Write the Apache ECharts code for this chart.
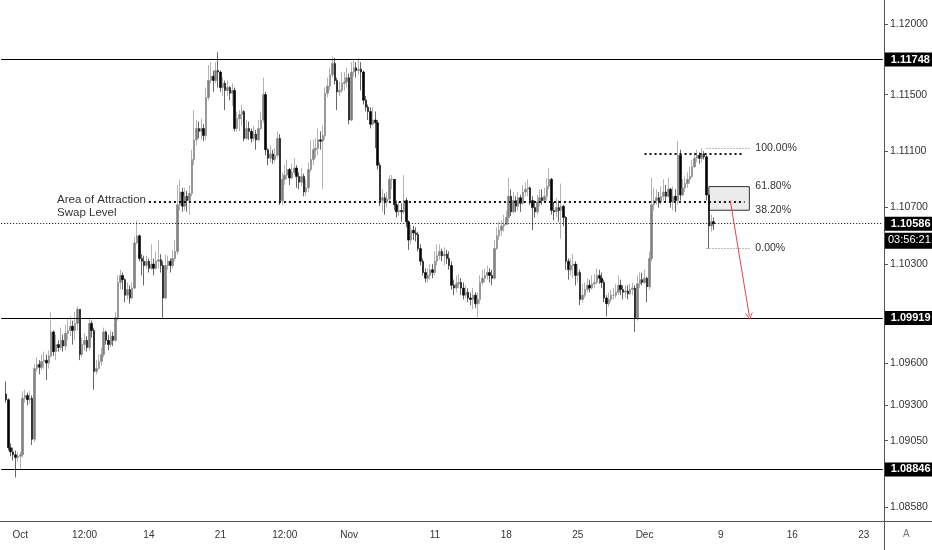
<!DOCTYPE html>
<html>
<head>
<meta charset="utf-8">
<title>EURUSD 4H</title>
<script src="https://cdn.jsdelivr.net/npm/echarts@6/dist/echarts.min.js"></script>
<style>
html, body { margin: 0; padding: 0; background: #fff; }
#chart { width: 932px; height: 550px; }
</style>
</head>
<body>
<div id="chart"></div>
<script>
// 4H bars, six per trading day; open = previous close
var firstOpen = 1.0938;
var closes = [
  1.0934,1.0900,1.0897,1.0895,1.0893,1.0894,
  1.0895,1.0935,1.0937,1.0934,1.0935,1.0906,
  1.0956,1.0959,1.0957,1.0961,1.0962,1.0960,
  1.0965,1.0982,1.0968,1.0973,1.0971,1.0976,
  1.0972,1.0981,1.0983,1.0986,1.0983,1.0988,
  1.0998,1.0966,1.0973,1.0976,1.0971,1.0988,
  1.0983,1.0954,1.0956,1.0961,1.0966,1.0982,
  1.0976,1.0973,1.0979,1.0976,1.0992,1.1017,
  1.1022,1.1019,1.1008,1.1012,1.1006,1.1013,
  1.1045,1.1050,1.1034,1.1032,1.1029,1.1032,
  1.1027,1.1030,1.1027,1.1032,1.1033,1.1029,
  1.1006,1.1029,1.1032,1.1029,1.1034,1.1039,
  1.1072,1.1081,1.1071,1.1078,1.1075,1.1080,
  1.1104,1.1118,1.1126,1.1124,1.1126,1.1121,
  1.1148,1.1160,1.1163,1.1160,1.1167,1.1166,
  1.1155,1.1158,1.1153,1.1155,1.1151,1.1153,
  1.1126,1.1133,1.1136,1.1138,1.1119,1.1126,
  1.1124,1.1119,1.1122,1.1118,1.1126,1.1132,
  1.1150,1.1111,1.1105,1.1108,1.1104,1.1107,
  1.1119,1.1075,1.1090,1.1093,1.1097,1.1091,
  1.1095,1.1098,1.1092,1.1088,1.1092,1.1081,
  1.1084,1.1097,1.1104,1.1111,1.1112,1.1118,
  1.1117,1.1121,1.1151,1.1156,1.1164,1.1172,
  1.1160,1.1152,1.1153,1.1158,1.1159,1.1162,
  1.1132,1.1166,1.1169,1.1167,1.1168,1.1166,
  1.1146,1.1141,1.1138,1.1129,1.1132,1.1130,
  1.1100,1.1075,1.1077,1.1074,1.1076,1.1090,
  1.1090,1.1072,1.1067,1.1068,1.1067,1.1075,
  1.1060,1.1047,1.1054,1.1052,1.1051,1.1041,
  1.1032,1.1024,1.1020,1.1022,1.1026,1.1024,
  1.1032,1.1036,1.1039,1.1036,1.1037,1.1034,
  1.1029,1.1015,1.1013,1.1016,1.1017,1.1013,
  1.1008,1.1010,1.1006,1.1005,1.1008,1.1002,
  1.1005,1.1017,1.1020,1.1022,1.1024,1.1022,
  1.1020,1.1041,1.1050,1.1054,1.1057,1.1058,
  1.1063,1.1078,1.1067,1.1075,1.1071,1.1077,
  1.1073,1.1081,1.1083,1.1084,1.1075,1.1070,
  1.1067,1.1074,1.1077,1.1075,1.1078,1.1085,
  1.1090,1.1068,1.1067,1.1070,1.1068,1.1071,
  1.1063,1.1032,1.1026,1.1029,1.1030,1.1022,
  1.1024,1.1005,1.1008,1.1012,1.1015,1.1013,
  1.1016,1.1017,1.1022,1.1020,1.1017,1.1006,
  1.1002,1.1005,1.1008,1.1008,1.1010,1.1015,
  1.1012,1.1010,1.1011,1.1009,1.1012,1.1013,
  1.0992,1.1016,1.1019,1.1017,1.1020,1.1014,
  1.1034,1.1072,1.1075,1.1077,1.1074,1.1078,
  1.1081,1.1078,1.1083,1.1074,1.1078,1.1075,
  1.1107,1.1079,1.1084,1.1087,1.1090,1.1092,
  1.1099,1.1105,1.1107,1.1105,1.1108,1.1106,
  1.1079,1.1057,1.1060,1.10586
];
var highs = [
  1.0947,1.0935,1.0903,1.0900,1.0898,1.0897,
  1.0897,1.0940,1.0941,1.0939,1.0940,1.0937,
  1.0959,1.0964,1.0962,1.0966,1.0968,1.0966,
  1.0969,1.0996,1.0983,1.0980,1.0976,1.0985,
  1.0980,1.0987,1.0992,1.0993,1.0990,1.0996,
  1.1000,1.0998,1.0978,1.0981,1.0979,1.0992,
  1.0990,1.0985,1.0962,1.0966,1.0971,1.0985,
  1.0983,1.0980,1.0983,1.0982,1.0996,1.1022,
  1.1026,1.1024,1.1020,1.1017,1.1015,1.1017,
  1.1049,1.1061,1.1051,1.1037,1.1036,1.1036,
  1.1034,1.1044,1.1034,1.1039,1.1047,1.1037,
  1.1032,1.1037,1.1036,1.1034,1.1040,1.1047,
  1.1086,1.1090,1.1084,1.1084,1.1082,1.1086,
  1.1111,1.1139,1.1132,1.1131,1.1133,1.1129,
  1.1155,1.1171,1.1173,1.1167,1.1173,1.1180,
  1.1167,1.1162,1.1160,1.1160,1.1156,1.1158,
  1.1155,1.1138,1.1139,1.1143,1.1139,1.1132,
  1.1131,1.1126,1.1128,1.1125,1.1132,1.1138,
  1.1162,1.1152,1.1112,1.1114,1.1111,1.1112,
  1.1124,1.1122,1.1095,1.1100,1.1104,1.1098,
  1.1101,1.1105,1.1100,1.1095,1.1098,1.1094,
  1.1090,1.1102,1.1118,1.1118,1.1119,1.1126,
  1.1124,1.1128,1.1155,1.1162,1.1169,1.1177,
  1.1176,1.1162,1.1159,1.1166,1.1166,1.1169,
  1.1165,1.1173,1.1174,1.1173,1.1176,1.1173,
  1.1167,1.1149,1.1143,1.1141,1.1141,1.1138,
  1.1132,1.1102,1.1083,1.1080,1.1081,1.1093,
  1.1093,1.1090,1.1075,1.1074,1.1073,1.1093,
  1.1077,1.1061,1.1058,1.1057,1.1056,1.1053,
  1.1044,1.1034,1.1027,1.1027,1.1030,1.1030,
  1.1039,1.1044,1.1044,1.1041,1.1042,1.1040,
  1.1039,1.1032,1.1019,1.1022,1.1023,1.1020,
  1.1017,1.1015,1.1013,1.1010,1.1013,1.1010,
  1.1010,1.1022,1.1026,1.1027,1.1029,1.1027,
  1.1026,1.1047,1.1056,1.1060,1.1061,1.1065,
  1.1068,1.1091,1.1083,1.1081,1.1078,1.1081,
  1.1079,1.1086,1.1088,1.1090,1.1085,1.1078,
  1.1075,1.1079,1.1083,1.1083,1.1084,1.1091,
  1.1098,1.1091,1.1074,1.1077,1.1075,1.1087,
  1.1072,1.1064,1.1034,1.1034,1.1037,1.1032,
  1.1030,1.1026,1.1016,1.1017,1.1020,1.1019,
  1.1022,1.1023,1.1027,1.1026,1.1024,1.1019,
  1.1008,1.1010,1.1012,1.1013,1.1016,1.1022,
  1.1019,1.1015,1.1015,1.1015,1.1016,1.1017,
  1.1015,1.1022,1.1024,1.1024,1.1026,1.1021,
  1.1039,1.1091,1.1084,1.1083,1.1081,1.1085,
  1.1090,1.1086,1.1091,1.1084,1.1085,1.1083,
  1.1117,1.1111,1.1090,1.1092,1.1095,1.1099,
  1.1104,1.1109,1.1111,1.1109,1.1112,1.1110,
  1.1107,1.1079,1.1065,1.1063
];
var lows = [
  1.0932,1.0898,1.0894,1.0891,1.0879,1.0890,
  1.0884,1.0893,1.0932,1.0930,1.0931,1.0902,
  1.0904,1.0954,1.0952,1.0955,1.0956,1.0948,
  1.0956,1.0964,1.0965,1.0962,1.0968,1.0969,
  1.0968,1.0969,1.0976,1.0979,1.0973,1.0976,
  1.0983,1.0962,1.0964,1.0969,1.0968,1.0969,
  1.0978,1.0941,1.0952,1.0956,1.0958,1.0964,
  1.0973,1.0969,1.0971,1.0972,1.0975,1.0990,
  1.1012,1.1012,1.1003,1.1005,1.1002,1.1005,
  1.1012,1.1044,1.1032,1.1022,1.1015,1.1027,
  1.1024,1.1026,1.1022,1.1026,1.1027,1.1024,
  1.0992,1.1005,1.1026,1.1024,1.1027,1.1032,
  1.1037,1.1068,1.1067,1.1068,1.1067,1.1065,
  1.1078,1.1100,1.1114,1.1119,1.1118,1.1117,
  1.1118,1.1146,1.1158,1.1152,1.1158,1.1155,
  1.1152,1.1149,1.1139,1.1149,1.1146,1.1142,
  1.1124,1.1124,1.1124,1.1128,1.1117,1.1118,
  1.1118,1.1116,1.1117,1.1111,1.1117,1.1125,
  1.1130,1.1107,1.1100,1.1102,1.1101,1.1102,
  1.1105,1.1072,1.1072,1.1086,1.1090,1.1086,
  1.1090,1.1093,1.1084,1.1083,1.1085,1.1078,
  1.1078,1.1081,1.1095,1.1100,1.1105,1.1107,
  1.1111,1.1083,1.1118,1.1148,1.1153,1.1162,
  1.1157,1.1139,1.1149,1.1151,1.1153,1.1155,
  1.1129,1.1131,1.1163,1.1162,1.1164,1.1153,
  1.1143,1.1138,1.1132,1.1126,1.1128,1.1112,
  1.1097,1.1071,1.1067,1.1065,1.1070,1.1073,
  1.1083,1.1068,1.1063,1.1064,1.1060,1.1065,
  1.1056,1.1040,1.1044,1.1047,1.1046,1.1039,
  1.1029,1.1022,1.1017,1.1017,1.1019,1.1020,
  1.1022,1.1029,1.1033,1.1032,1.1029,1.1030,
  1.1026,1.1012,1.1008,1.1010,1.1013,1.1008,
  1.1005,1.1006,1.1003,1.1001,1.0998,1.0999,
  1.0992,1.1002,1.1015,1.1017,1.1019,1.1017,
  1.1015,1.1019,1.1040,1.1047,1.1050,1.1053,
  1.1058,1.1060,1.1064,1.1066,1.1067,1.1068,
  1.1067,1.1072,1.1078,1.1078,1.1072,1.1054,
  1.1063,1.1065,1.1071,1.1072,1.1074,1.1075,
  1.1083,1.1065,1.1061,1.1063,1.1060,1.1048,
  1.1057,1.1026,1.1019,1.1022,1.1020,1.1015,
  1.1017,1.1001,1.1003,1.1006,1.1010,1.1010,
  1.1012,1.1013,1.1016,1.1016,1.1013,1.1003,
  1.0993,1.1000,1.1003,1.1005,1.1006,1.1008,
  1.1008,1.1005,1.1006,1.1005,1.1008,1.1008,
  1.0982,1.0990,1.1013,1.1015,1.1016,1.1003,
  1.1012,1.1032,1.1068,1.1072,1.1070,1.1072,
  1.1075,1.1074,1.1077,1.1070,1.1068,1.1067,
  1.1072,1.1075,1.1078,1.1081,1.1084,1.1087,
  1.1091,1.1098,1.1102,1.1101,1.1102,1.1104,
  1.1075,1.1041,1.1053,1.1054
];

var firstBar = 2;     // slot of the first candle
var barCount = 371;   // bar slots on the time axis, empty ones run on to Dec 23

var xTickIdx = [8, 35, 62, 92, 119, 146, 182, 212, 242, 270, 302, 332, 362];
var xTickLabels = ['Oct', '12:00', '14', '21', '12:00', 'Nov', '11', '18', '25', 'Dec', '9', '16', '23'];
var yTicks = [1.12, 1.115, 1.111, 1.107, 1.103, 1.096, 1.093, 1.0905, 1.0858];

var levels = [1.11748, 1.09919, 1.08846];
var lastPrice = 1.10586;
var countdown = '03:56:21';

var swapLevel = 1.1074, swapFrom = 62, swapTo = 312;
var swingTop = 1.1108, swingFrom = 270, swingTo = 311;

var fibHigh = 1.1112, fibLow = 1.1041;
var fibRatios = [1, 0.618, 0.382, 0];
var fibFrom = 296, fibTo = 314, zoneFrom = 297;

var arrowFrom = [306, 1.1075], arrowTo = [314, 1.0993];

var candles = [];
var prev = firstOpen;
for (var i = 0; i < closes.length; i++) {
    candles.push([firstBar + i, prev, closes[i], lows[i], highs[i]]);
    prev = closes[i];
}
var slots = [];
for (var k = 0; k < barCount; k++) slots.push(k);

var FONT = '"Liberation Sans", Arial, sans-serif';

function priceTag(v) {
    return {
        show: true, position: 'end', distance: 2,
        formatter: v.toFixed(5),
        color: '#fff', backgroundColor: '#000', fontWeight: 'bold',
        fontSize: 11, fontFamily: FONT, padding: [2, 5, 1, 6]
    };
}

var fibPrice = function (r) { return fibLow + r * (fibHigh - fibLow); };

// full-width horizontal levels drawn edge slot to edge slot
function fullLine(v, style) {
    return [
        { coord: [0, v], lineStyle: style, label: priceTag(v) },
        { coord: [barCount - 1, v] }
    ];
}

var lineData = [];
levels.forEach(function (v) {
    lineData.push(fullLine(v, { type: 'solid', color: '#000', width: 1 }));
});
lineData.push(fullLine(lastPrice, { type: [1, 2], color: '#000', width: 1 }));
lineData.push([
    { coord: [swapFrom, swapLevel], lineStyle: { type: [2, 3], color: '#111', width: 2 } },
    { coord: [swapTo, swapLevel] }
]);
lineData.push([
    { coord: [swingFrom, swingTop], lineStyle: { type: [2, 3], color: '#111', width: 2 } },
    { coord: [swingTo, swingTop] }
]);
fibRatios.forEach(function (r) {
    var p = fibPrice(r);
    var edge = (r === 1 || r === 0);
    lineData.push([
        {
            coord: [fibFrom, p],
            lineStyle: edge ? { type: [1, 2], color: '#777', width: 1 }
                            : { type: 'solid', color: 'rgba(0,0,0,0)', width: 1 },
            label: {
                show: true, position: 'end', distance: 6,
                formatter: (r * 100).toFixed(2) + '%',
                color: '#333', fontSize: 10.5, fontFamily: FONT
            }
        },
        { coord: [fibTo, p] }
    ]);
});
// open chevron head, like the hand-drawn arrow
var chevron = 'path://M5,0 L10,8 L8.8,8 L5,1.9 L1.2,8 L0,8 Z';
lineData.push([
    { coord: arrowFrom, symbol: 'none', lineStyle: { type: 'solid', color: '#e8414b', width: 1 } },
    { coord: arrowTo, symbol: chevron, symbolSize: [8, 7], symbolOffset: [0, 0] }
]);

var chart = echarts.init(document.getElementById('chart'));

chart.setOption({
    animation: false,
    backgroundColor: '#fff',
    grid: { left: 0, right: 48, top: 0, bottom: 29, containLabel: false },
    xAxis: {
        type: 'category',
        data: slots,
        boundaryGap: true,
        axisLine: { lineStyle: { color: '#555', width: 1 } },
        axisTick: {
            alignWithLabel: true, length: 4,
            interval: function (idx) { return xTickIdx.indexOf(idx) >= 0; },
            lineStyle: { color: '#555' }
        },
        axisLabel: {
            interval: function (idx) { return xTickIdx.indexOf(idx) >= 0; },
            formatter: function (v, idx) { return xTickLabels[xTickIdx.indexOf(idx)] || ''; },
            color: '#333', fontSize: 10, fontFamily: FONT, margin: 9
        },
        splitLine: { show: false }
    },
    yAxis: {
        type: 'value',
        position: 'right',
        min: 1.08481,
        max: 1.1217,
        axisLine: { show: true, lineStyle: { color: '#555', width: 1 } },
        axisTick: { show: true, length: 4, customValues: yTicks, lineStyle: { color: '#555' } },
        axisLabel: {
            customValues: yTicks,
            formatter: function (v) { return v.toFixed(5); },
            color: '#333', fontSize: 10.5, fontFamily: FONT, margin: 6
        },
        splitLine: { show: false }
    },
    series: [{
        type: 'candlestick',
        data: candles,
        encode: { x: 0, y: [1, 2, 3, 4] },
        barWidth: 2,
        itemStyle: {
            color: '#7f7f7f', color0: '#000',
            borderColor: '#7f7f7f', borderColor0: '#000',
            borderWidth: 0.6
        },
        markLine: {
            silent: true,
            symbol: 'none',
            animation: false,
            label: { show: false },
            data: lineData
        },
        markArea: {
            silent: true,
            itemStyle: { color: 'rgba(228,228,228,0.75)', borderColor: '#333', borderWidth: 1 },
            data: [[
                { coord: [zoneFrom, fibPrice(0.618)] },
                { coord: [fibTo, fibPrice(0.382)] }
            ]]
        }
    }]
});

// notes next to the swap level, countdown under the last price, corner marks
var ctx = document.createElement('canvas').getContext('2d');
ctx.font = '11.5px ' + FONT;
var swapPt = chart.convertToPixel({ xAxisIndex: 0, yAxisIndex: 0 }, [swapFrom, swapLevel]);
var noteW = ctx.measureText('Area of Attraction').width;
var noteLeft = swapPt[0] - 3 - noteW;
var lastY = chart.convertToPixel({ yAxisIndex: 0 }, lastPrice);

chart.setOption({
    graphic: [
        { type: 'text', left: noteLeft, top: swapPt[1] - 8,
          style: { text: 'Area of Attraction', fill: '#333', font: '11.5px ' + FONT } },
        { type: 'text', left: noteLeft, top: swapPt[1] + 5,
          style: { text: 'Swap Level', fill: '#333', font: '11.5px ' + FONT } },
        { type: 'rect', left: 885, top: lastY + 9, shape: { width: 47, height: 16 }, style: { fill: '#000' } },
        { type: 'text', left: 888, top: lastY + 11,
          style: { text: countdown, fill: '#fff', font: '11px ' + FONT } },
        { type: 'line', shape: { x1: 884.5, y1: 521, x2: 884.5, y2: 550 }, style: { stroke: '#555', lineWidth: 1 } },
        { type: 'line', shape: { x1: 884, y1: 521.5, x2: 932, y2: 521.5 }, style: { stroke: '#555', lineWidth: 1 } },
        { type: 'text', left: 903, top: 529, style: { text: 'A', fill: '#777', font: '10px ' + FONT } }
    ]
});
</script>
</body>
</html>
